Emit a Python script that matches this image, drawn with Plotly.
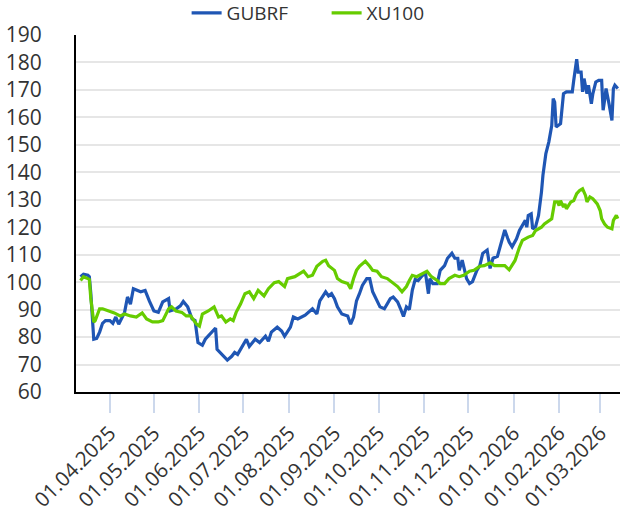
import plotly.graph_objects as go

# ---- data ----
gubrf_dates = [
    "2025-03-12", "2025-03-14", "2025-03-17", "2025-03-18", "2025-03-19", "2025-03-20", "2025-03-21",
    "2025-03-23", "2025-03-25", "2025-03-27", "2025-03-29", "2025-04-01", "2025-04-03", "2025-04-05",
    "2025-04-07", "2025-04-11", "2025-04-13", "2025-04-15", "2025-04-17", "2025-04-22", "2025-04-25",
    "2025-04-28", "2025-05-01", "2025-05-04", "2025-05-07", "2025-05-11", "2025-05-12", "2025-05-16",
    "2025-05-19", "2025-05-21", "2025-05-24", "2025-05-27", "2025-05-29", "2025-05-31", "2025-06-03",
    "2025-06-05", "2025-06-08", "2025-06-12", "2025-06-13", "2025-06-16", "2025-06-20", "2025-06-23",
    "2025-06-25", "2025-06-27", "2025-07-01", "2025-07-03", "2025-07-05", "2025-07-09", "2025-07-12",
    "2025-07-16", "2025-07-18", "2025-07-20", "2025-07-24", "2025-07-27", "2025-07-29", "2025-08-02",
    "2025-08-04", "2025-08-07", "2025-08-12", "2025-08-15", "2025-08-17", "2025-08-20", "2025-08-22",
    "2025-08-26", "2025-08-28", "2025-08-30", "2025-09-01", "2025-09-03", "2025-09-06", "2025-09-10",
    "2025-09-12", "2025-09-14", "2025-09-16", "2025-09-18", "2025-09-20", "2025-09-23", "2025-09-25",
    "2025-09-27", "2025-09-30", "2025-10-02", "2025-10-05", "2025-10-09", "2025-10-11", "2025-10-14",
    "2025-10-16", "2025-10-18", "2025-10-20", "2025-10-22", "2025-10-24", "2025-10-26", "2025-10-28",
    "2025-10-31", "2025-11-02", "2025-11-04", "2025-11-05", "2025-11-07", "2025-11-10", "2025-11-12",
    "2025-11-15", "2025-11-17", "2025-11-20", "2025-11-22", "2025-11-24", "2025-11-25", "2025-11-27",
    "2025-11-30", "2025-12-02", "2025-12-04", "2025-12-07", "2025-12-09", "2025-12-11", "2025-12-14",
    "2025-12-16", "2025-12-18", "2025-12-21", "2025-12-24", "2025-12-26", "2025-12-28", "2025-12-29",
    "2025-12-31", "2026-01-03", "2026-01-05", "2026-01-07", "2026-01-09", "2026-01-10", "2026-01-11",
    "2026-01-13", "2026-01-14", "2026-01-16", "2026-01-18", "2026-01-20", "2026-01-21", "2026-01-23",
    "2026-01-25", "2026-01-27", "2026-01-28", "2026-01-29", "2026-01-30", "2026-02-02", "2026-02-03",
    "2026-02-04", "2026-02-06", "2026-02-10", "2026-02-11", "2026-02-13", "2026-02-14", "2026-02-16",
    "2026-02-17", "2026-02-18", "2026-02-20", "2026-02-21", "2026-02-23", "2026-02-24", "2026-02-26",
    "2026-02-28", "2026-03-02", "2026-03-03", "2026-03-04", "2026-03-05", "2026-03-07", "2026-03-09",
    "2026-03-10", "2026-03-11", "2026-03-13",
]
gubrf_values = [
    102.0, 102.9, 102.5, 102.0, 96.0, 89.0, 79.2,
    79.5, 81.8, 85.0, 86.0, 86.0, 85.0, 87.3,
    84.7, 89.0, 94.6, 92.0, 97.6, 96.5, 97.0,
    93.0, 89.5, 89.0, 92.8, 94.0, 89.5, 90.2,
    91.4, 93.0, 91.0, 86.6, 86.0, 78.0, 77.0,
    79.2, 81.0, 83.3, 75.5, 73.7, 71.6, 73.0,
    74.4, 73.7, 77.4, 79.2, 76.6, 79.2, 78.0,
    80.3, 78.5, 81.8, 83.6, 82.2, 80.3, 83.6,
    87.3, 86.6, 88.0, 89.5, 90.3, 88.4, 93.2,
    96.5, 95.0, 95.8, 94.0, 91.0, 88.4, 87.7,
    84.7, 87.3, 93.2, 95.8, 98.8, 101.3, 101.3,
    96.5, 92.8, 91.0, 90.3, 94.0, 94.6, 92.8,
    90.3, 87.5, 91.0, 90.0, 97.0, 101.0, 100.6,
    102.5, 103.2, 95.8, 101.3, 99.5, 99.5, 104.3,
    106.0, 108.7, 110.5, 108.7, 108.7, 104.3, 108.0,
    101.3, 99.5, 100.2, 104.3, 106.0, 110.5, 111.7,
    105.0, 108.7, 109.4, 115.0, 119.0, 116.0, 114.6,
    112.9, 115.8, 118.8, 120.6, 122.5, 120.0, 124.3,
    124.9, 119.4, 120.2, 124.3, 132.8, 138.9, 146.8,
    151.0, 157.0, 166.8, 165.6, 156.5, 157.7, 165.0,
    168.6, 169.3, 169.3, 173.5, 181.2, 176.5, 176.5,
    169.3, 174.1, 168.6, 171.7, 165.0, 168.6, 172.9,
    173.5, 173.5, 162.6, 166.2, 170.5, 165.0, 158.9,
    170.5, 171.7, 170.5,
]

xu100_dates = [
    "2025-03-12", "2025-03-14", "2025-03-17", "2025-03-18", "2025-03-19", "2025-03-20", "2025-03-21",
    "2025-03-22", "2025-03-25", "2025-03-27", "2025-04-01", "2025-04-04", "2025-04-08", "2025-04-11",
    "2025-04-15", "2025-04-19", "2025-04-23", "2025-04-26", "2025-04-30", "2025-05-04", "2025-05-07",
    "2025-05-11", "2025-05-13", "2025-05-16", "2025-05-20", "2025-05-23", "2025-05-26", "2025-05-30",
    "2025-06-01", "2025-06-03", "2025-06-07", "2025-06-11", "2025-06-14", "2025-06-16", "2025-06-19",
    "2025-06-22", "2025-06-24", "2025-06-26", "2025-06-29", "2025-07-02", "2025-07-05", "2025-07-08",
    "2025-07-11", "2025-07-15", "2025-07-18", "2025-07-22", "2025-07-25", "2025-07-29", "2025-07-31",
    "2025-08-05", "2025-08-11", "2025-08-14", "2025-08-17", "2025-08-20", "2025-08-24", "2025-08-26",
    "2025-08-28", "2025-09-01", "2025-09-03", "2025-09-06", "2025-09-10", "2025-09-12", "2025-09-14",
    "2025-09-16", "2025-09-18", "2025-09-22", "2025-09-25", "2025-09-27", "2025-09-30", "2025-10-03",
    "2025-10-07", "2025-10-10", "2025-10-14", "2025-10-17", "2025-10-20", "2025-10-22", "2025-10-24",
    "2025-10-27", "2025-10-31", "2025-11-03", "2025-11-06", "2025-11-10", "2025-11-12", "2025-11-15",
    "2025-11-18", "2025-11-22", "2025-11-25", "2025-11-28", "2025-12-02", "2025-12-05", "2025-12-09",
    "2025-12-12", "2025-12-16", "2025-12-19", "2025-12-23", "2025-12-26", "2025-12-29", "2026-01-02",
    "2026-01-05", "2026-01-07", "2026-01-11", "2026-01-14", "2026-01-16", "2026-01-18", "2026-01-20",
    "2026-01-22", "2026-01-25", "2026-01-27", "2026-01-29", "2026-01-31", "2026-02-01", "2026-02-02",
    "2026-02-04", "2026-02-05", "2026-02-06", "2026-02-09", "2026-02-11", "2026-02-13", "2026-02-15",
    "2026-02-17", "2026-02-19", "2026-02-20", "2026-02-22", "2026-02-24", "2026-02-27", "2026-03-01",
    "2026-03-02", "2026-03-04", "2026-03-06", "2026-03-09", "2026-03-10", "2026-03-12", "2026-03-13",
]
xu100_values = [
    100.6, 102.0, 101.3, 101.0, 94.0, 90.0, 85.5,
    86.0, 90.3, 90.3, 89.5, 88.8, 87.7, 88.4,
    87.7, 87.3, 88.8, 86.6, 85.5, 85.5, 86.0,
    90.3, 91.0, 89.5, 89.0, 87.7, 87.7, 84.7,
    84.0, 88.4, 89.5, 91.0, 87.3, 87.7, 85.5,
    86.6, 86.0, 89.0, 92.0, 95.8, 96.5, 94.0,
    97.0, 95.0, 97.6, 99.8, 100.2, 98.4, 101.3,
    102.0, 104.0, 102.0, 102.5, 105.8, 107.6, 108.0,
    106.0, 104.3, 101.3, 100.2, 99.5, 97.6, 101.3,
    104.3, 105.8, 107.6, 105.8, 104.3, 104.0, 102.0,
    101.3, 100.2, 98.4, 96.5, 98.4, 100.6, 102.5,
    102.0, 103.2, 104.0, 102.0, 100.6, 99.5, 99.5,
    101.3, 102.5, 102.0, 102.5, 104.0, 104.3, 105.8,
    106.0, 107.0, 106.0, 106.0, 106.0, 104.5, 107.9,
    112.7, 115.2, 116.4, 117.0, 118.8, 119.4, 120.0,
    121.2, 122.5, 123.1, 129.2, 129.2, 127.9, 129.7,
    127.3, 128.5, 126.7, 129.2, 129.7, 132.2, 133.4,
    134.0, 131.6, 129.2, 131.0, 130.4, 128.5, 126.1,
    123.1, 121.2, 120.0, 119.4, 122.5, 124.3, 123.1,
]

tick_dates = ["2025-04-01", "2025-05-01", "2025-06-01", "2025-07-01", "2025-08-01", "2025-09-01",
              "2025-10-01", "2025-11-01", "2025-12-01", "2026-01-01", "2026-02-01", "2026-03-01"]
tick_labels = ["01.04.2025", "01.05.2025", "01.06.2025", "01.07.2025", "01.08.2025", "01.09.2025",
               "01.10.2025", "01.11.2025", "01.12.2025", "01.01.2026", "01.02.2026", "01.03.2026"]
y_ticks = [60, 70, 80, 90, 100, 110, 120, 130, 140, 150, 160, 170, 180, 190]

BLUE = "#1f56b4"
GREEN = "#66cc00"
TEXT = "#333333"
FONT = "Open Sans"

fig = go.Figure()
fig.add_trace(go.Scatter(x=gubrf_dates, y=gubrf_values, name="GUBRF", mode="lines",
                         line=dict(color=BLUE, width=3.2)))
fig.add_trace(go.Scatter(x=xu100_dates, y=xu100_values, name="XU100", mode="lines",
                         line=dict(color=GREEN, width=3.2)))

fig.update_layout(
    width=620, height=517,
    margin=dict(l=76, r=0, t=35, b=125, autoexpand=False),
    paper_bgcolor="white", plot_bgcolor="white",
    font=dict(family=FONT, color=TEXT),
    showlegend=True,
    legend=dict(orientation="h", xref="container", yref="container",
                x=0.301, xanchor="left", y=0.975, yanchor="middle",
                font=dict(size=19, color=TEXT, family=FONT),
                entrywidth=95, entrywidthmode="pixels",
                itemwidth=30, tracegroupgap=0),
)
fig.update_xaxes(
    type="date", automargin=False,
    range=["2025-03-08 22:00", "2026-03-14 12:00"],
    tickvals=tick_dates, ticktext=tick_labels, tickangle=-45,
    ticks="outside", ticklen=19, tickwidth=2, tickcolor="#ccd8ec",
    tickfont=dict(size=20.5, color=TEXT, family=FONT),
    showline=True, linecolor="black", linewidth=2,
    showgrid=False, zeroline=False,
)
fig.update_yaxes(
    automargin=False,
    range=[60, 190], tickvals=y_ticks,
    ticks="outside", ticklen=28, tickcolor="rgba(0,0,0,0)",
    tickfont=dict(size=21, color=TEXT, family=FONT),
    showline=True, linecolor="black", linewidth=2,
    showgrid=True, gridcolor="#e6e6e6", gridwidth=2,
    zeroline=False,
)

fig.write_html("out.html", config={"displayModeBar": False},
               post_script="document.body.style.margin='0';")
